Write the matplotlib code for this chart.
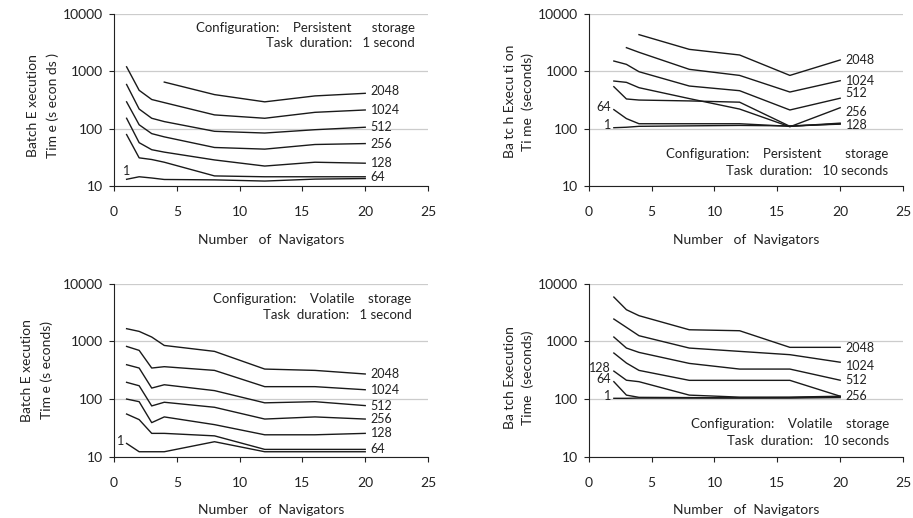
import numpy as np
import matplotlib
matplotlib.use("Agg")
import matplotlib.pyplot as plt

nan = np.nan

# x values (number of navigators)
x_1s = [1, 2, 3, 4, 8, 12, 16, 20]
x_10s = [2, 3, 4, 8, 12, 16, 20]

series_names = ["2048", "1024", "512", "256", "128", "64", "1"]

# persistent storage, 1 second tasks
pers_1s = {
    "2048": [nan, nan, nan, 650, 393, 294, 373, 414],
    "1024": [1200, 467, 323, 285, 174, 152, 193, 212],
    "512": [590, 220, 152, 133, 90, 84, 96, 106],
    "256": [294, 117, 82, 72, 47, 44, 53, 55],
    "128": [152, 57, 43, 39, 28.5, 22.3, 26, 25],
    "64": [79, 31, 29, 26, 15, 14.5, 14.5, 14.5],
    "1": [13.1, 14.5, 13.8, 13, 12.8, 12.2, 13.2, 13.5],
}

# persistent storage, 10 second tasks
pers_10s = {
    "2048": [nan, nan, 4370, 2420, 1930, 850, 1580],
    "1024": [nan, 2590, 2150, 1085, 850, 436, 687],
    "512": [1515, 1325, 986, 555, 460, 212, 340],
    "256": [678, 643, 519, 335, 220, 108, 232],
    "128": [540, 330, 316, 305, 290, 110, 125],
    "64": [215, 150, 122, 122, 122, 110, 122],
    "1": [104, 106, 110, 112, 114, 112, 120],
}

# volatile storage, 1 second tasks
vol_1s = {
    "2048": [1660, 1490, 1190, 850, 671, 331, 314, 272],
    "1024": [818, 698, 345, 364, 314, 164, 164, 145],
    "512": [394, 345, 155, 177, 140, 86, 90, 77],
    "256": [195, 170, 76, 88, 72, 45, 49, 45],
    "128": [100, 90, 39, 49, 36, 24, 24, 25.4],
    "64": [55, 44, 25.4, 25.4, 23, 13.4, 13.4, 13.4],
    "1": [17, 12.2, 12.2, 12.2, 18.2, 12.2, 12.2, 12.2],
}

# volatile storage, 10 second tasks
vol_10s = {
    "2048": [5870, 3540, 2790, 1590, 1530, 788, 788],
    "1024": [2440, 1750, 1254, 766, 671, 588, 435],
    "512": [1190, 766, 644, 415, 331, 331, 212],
    "256": [628, 421, 314, 211, 211, 211, 112],
    "128": [305, 212, 200, 117, 108, 108, 112],
    "64": [200, 117, 107, 106, 105, 106, 110],
    "1": [103, 103, 104, 104, 104, 104, 106],
}

y_ticks = [10, 100, 1000, 10000]
y_tick_labels = ["10", "100", "1000", "10000"]
x_ticks = [0, 5, 10, 15, 20, 25]

plt.rcParams['font.family'] = ['Lato', 'DejaVu Sans']

fig = plt.figure(figsize=(9.13, 5.18), dpi=100)

panels = [
    dict(data=pers_1s, x=x_1s, rect=[0.1249, 0.6409, 0.3439, 0.332],
         text=["Configuration:    Persistent      storage", "Task  duration:   1 second"],
         tx=0.959, ty=[0.92, 0.83],
         ylab=["Batch E xecution", "Tim e (s econ ds )"], ylx=[-0.258, -0.194], yly=0.47,
         end=["2048", "1024", "512", "256", "128", "64"], start=[],
         nudge={"2048": 1.5}),
    dict(data=pers_10s, x=x_10s, rect=[0.6448, 0.6409, 0.3443, 0.332],
         text=["Configuration:    Persistent       storage", "Task  duration:   10 seconds"],
         tx=0.952, ty=[0.186, 0.089],
         ylab=["Ba tc h Execu ti on", "Ti me  (seconds)"], ylx=[-0.251, -0.193], yly=0.49,
         end=["2048", "1024", "512", "256", "128"], start=["64", "1"],
         nudge={"512": 3.5, "256": -3, "128": -1}),
    dict(data=vol_1s, x=x_1s, rect=[0.1249, 0.1183, 0.3439, 0.334],
         text=["Configuration:    Volatile    storage", "Task  duration:   1 second"],
         tx=0.948, ty=[0.913, 0.821],
         ylab=["Batch E xecution", "Tim e (s econds)"], ylx=[-0.278, -0.214], yly=0.50,
         end=["2048", "1024", "512", "256", "128", "64"], start=["1"],
         nudge={}),
    dict(data=vol_10s, x=x_10s, rect=[0.6448, 0.1183, 0.3443, 0.334],
         text=["Configuration:    Volatile    storage", "Task  duration:   10 seconds"],
         tx=0.957, ty=[0.19, 0.09],
         ylab=["Ba tch Execution", "Time  (seconds)"], ylx=[-0.251, -0.193], yly=0.455,
         end=["2048", "1024", "512", "256"], start=["128", "64", "1"],
         nudge={"1024": -2.5, "2048": -0.5}),
]

for i, p in enumerate(panels):
    ax = fig.add_axes(p["rect"])
    ax.set_yscale("log")
    ax.set_xlim(0, 25)
    ax.set_ylim(10, 10000)
    ax.set_yticks(y_ticks, labels=y_tick_labels)
    ax.set_xticks(x_ticks)
    ax.yaxis.set_minor_locator(matplotlib.ticker.NullLocator())
    ax.tick_params(axis="both", direction="out", length=3.6, width=0.8,
                   labelsize=10, colors="#222222")
    ax.tick_params(axis="x", pad=11)
    ax.tick_params(axis="y", pad=4)
    for s in ["top", "right"]:
        ax.spines[s].set_visible(False)
    for s in ["left", "bottom"]:
        ax.spines[s].set_linewidth(0.8)
        ax.spines[s].set_color("#222222")
    ax.grid(True, axis="y", color="#cccccc", linewidth=0.9)
    ax.set_axisbelow(True)

    xs = p["x"]
    for name in series_names:
        ax.plot(xs, p["data"][name], color="#1a1a1a", linewidth=1.0)

    for name in p["end"]:
        dy = p["nudge"].get(name, 0)
        ax.annotate(name, (xs[-1], p["data"][name][-1]), xytext=(4, dy),
                    textcoords="offset points", ha="left", va="center",
                    fontsize=9, color="#222222")
    for name in p["start"]:
        vals = p["data"][name]
        j = next(k for k, v in enumerate(vals) if not np.isnan(v))
        ax.annotate(name, (xs[j], vals[j]), xytext=(-2, 2),
                    textcoords="offset points", ha="right", va="center",
                    fontsize=9, color="#222222")
    if i == 0:
        ax.annotate("1", (xs[0], p["data"]["1"][0]), xytext=(0, 2),
                    textcoords="offset points", ha="center", va="bottom",
                    fontsize=9, color="#222222")

    for line, ty in zip(p["text"], p["ty"]):
        ax.text(p["tx"], ty, line, transform=ax.transAxes, ha="right",
                va="center", fontsize=9.5, color="#222222")

    for line, lx in zip(p["ylab"], p["ylx"]):
        ax.text(lx, p["yly"], line, transform=ax.transAxes, rotation=90,
                ha="center", va="center", fontsize=10, color="#222222")

    ax.set_xlabel("Number   of  Navigators", fontsize=10, labelpad=11,
                  color="#222222")

fig.savefig("out.png", dpi=100)
